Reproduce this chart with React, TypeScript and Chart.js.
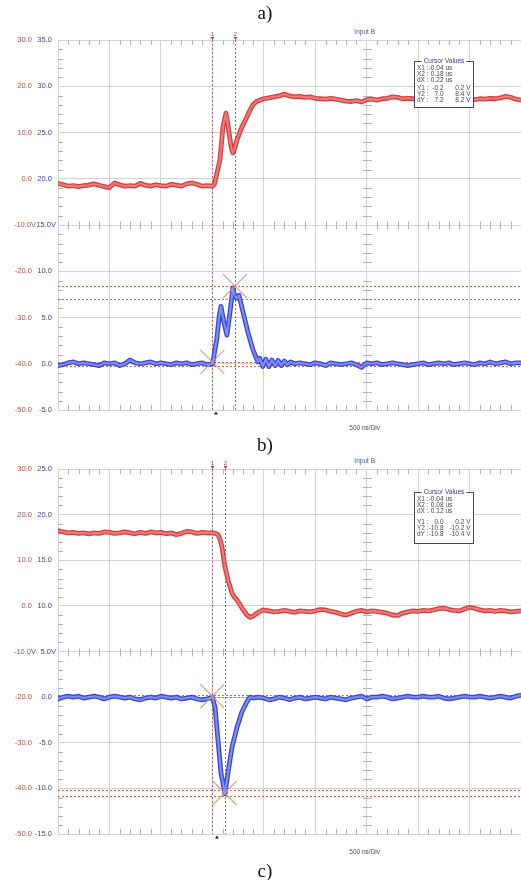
import React, { useEffect, useRef } from 'react';
import { Chart, registerables } from 'chart.js';

Chart.register(...registerables);

// ---------- time grid (µs, 500 ns/div) ----------
const PRE_T = [-1.5, -1.45, -1.4, -1.35, -1.3, -1.25, -1.2, -1.15, -1.1, -1.05, -1, -0.95, -0.9, -0.85, -0.8, -0.75, -0.7, -0.65, -0.6, -0.55, -0.5, -0.45, -0.4, -0.35, -0.3, -0.25, -0.2, -0.15, -0.1, -0.05, 0];
const POST_T = [0.55, 0.6, 0.65, 0.7, 0.75, 0.8, 0.85, 0.9, 0.95, 1, 1.05, 1.1, 1.15, 1.2, 1.25, 1.3, 1.35, 1.4, 1.45, 1.5, 1.55, 1.6, 1.65, 1.7, 1.75, 1.8, 1.85, 1.9, 1.95, 2, 2.05, 2.1, 2.15, 2.2, 2.25, 2.3, 2.35, 2.4, 2.45, 2.5, 2.55, 2.6, 2.65, 2.7, 2.75, 2.8, 2.85, 2.9, 2.95, 3];
const POST_T_LATE = POST_T.slice(6);

// ---------- panel a) : channel A (red) ----------
const A_RED_PRE = [-1.0, -1.3, -1.6, -1.5, -1.7, -1.5, -1.4, -1.1, -1.4, -1.7, -1.9, -0.9, -1.3, -1.6, -1.5, -1.6, -1.0, -1.4, -1.6, -1.3, -1.5, -1.6, -1.2, -1.4, -1.6, -1.1, -0.9, -1.2, -1.6, -1.5, -1.6];
const A_RED_EDGE_T = [0.02, 0.045, 0.074, 0.103, 0.133, 0.152, 0.175, 0.19, 0.2, 0.22, 0.24, 0.265, 0.288, 0.31, 0.337, 0.365, 0.395, 0.43, 0.463, 0.5];
const A_RED_EDGE = [-1.2, 1.2, 4.1, 11.2, 14.2, 11.6, 8.0, 6.2, 5.6, 6.8, 8.4, 9.9, 11.2, 12.2, 13.4, 14.8, 16.0, 16.7, 17.0, 17.3];
const A_RED_POST = [17.5, 17.7, 17.9, 18.3, 17.9, 17.7, 17.8, 17.6, 17.7, 17.4, 17.3, 17.2, 17.4, 17.2, 17.0, 16.8, 16.7, 16.9, 16.6, 17.1, 17.2, 17.0, 17.3, 17.4, 17.7, 17.6, 17.3, 17.4, 17.3, 17.2, 17.4, 17.3, 17.5, 17.3, 17.4, 17.2, 17.3, 17.4, 17.2, 17.3, 17.1, 17.3, 17.2, 17.4, 17.3, 17.5, 17.8, 17.6, 17.2, 17.0];

// ---------- panel a) : channel B (blue) ----------
const A_BLUE_PRE = [-0.2, -0.1, 0.1, 0.2, 0.0, 0.1, 0.0, -0.1, -0.2, 0.1, 0.0, 0.1, -0.2, 0.0, 0.4, 0.1, 0.0, 0.1, 0.2, 0.0, 0.1, 0.0, -0.1, 0.1, 0.0, 0.1, -0.1, 0.0, 0.1, -0.1, 0.0];
const A_BLUE_EDGE_T = [0.006, 0.045, 0.065, 0.084, 0.11, 0.142, 0.172, 0.2, 0.22, 0.24, 0.259, 0.298, 0.346, 0.395, 0.444, 0.46, 0.49, 0.52, 0.55, 0.58, 0.61, 0.64, 0.67, 0.7, 0.73, 0.76, 0.8];
const A_BLUE_EDGE = [0.2, 2.8, 5.0, 6.2, 4.6, 3.1, 5.6, 8.2, 7.3, 7.1, 7.4, 5.6, 3.4, 1.5, 0.2, 0.6, -0.3, 0.5, -0.3, 0.4, -0.2, 0.35, -0.2, 0.3, -0.1, 0.2, 0.0];
const A_BLUE_POST = [0.1, 0.0, -0.1, 0.1, 0.0, -0.2, 0.1, 0.0, -0.1, 0.0, 0.1, -0.1, -0.4, 0.1, 0.0, 0.1, -0.1, 0.0, 0.1, 0.0, -0.1, -0.2, -0.1, 0.0, 0.1, -0.1, 0.0, 0.1, 0.0, 0.1, -0.1, 0.0, 0.1, 0.0, -0.1, 0.1, 0.0, 0.2, 0.0, 0.1, 0.2, 0.0, 0.1, 0.1];

// ---------- panel b) : channel A (red) ----------
const B_RED_PRE = [16.5, 16.2, 16.0, 16.1, 15.9, 16.0, 15.8, 16.0, 15.9, 16.2, 16.1, 15.9, 16.0, 16.2, 16.0, 15.8, 16.1, 15.9, 16.2, 16.0, 16.1, 15.8, 16.0, 15.6, 15.9, 16.3, 16.2, 15.9, 16.1, 16.0, 16.0];
const B_RED_EDGE_T = [0.03, 0.055, 0.075, 0.094, 0.123, 0.152, 0.175, 0.191, 0.215, 0.24, 0.265, 0.288, 0.337, 0.366, 0.4, 0.434, 0.49];
const B_RED_EDGE = [15.9, 15.6, 14.6, 12.9, 8.5, 5.7, 4.0, 2.8, 1.9, 1.3, 0.4, -0.5, -2.0, -2.5, -2.2, -1.6, -0.9];
const B_RED_POST = [-1.1, -1.3, -1.2, -1.0, -1.2, -1.4, -1.1, -1.2, -1.3, -1.1, -0.8, -0.9, -1.2, -1.4, -1.8, -2.0, -1.6, -1.2, -1.0, -1.3, -1.1, -1.2, -1.4, -1.6, -2.0, -2.1, -1.6, -1.3, -1.1, -1.2, -1.0, -1.1, -0.9, -0.6, -0.5, -0.8, -1.0, -1.1, -0.7, -0.3, -0.5, -0.9, -1.1, -1.0, -1.2, -1.0, -1.1, -1.3, -1.2, -1.1];

// ---------- panel b) : channel B (blue) ----------
const B_BLUE_PRE = [-0.2, 0.0, 0.1, 0.0, 0.1, -0.1, 0.0, 0.1, 0.0, -0.2, 0.0, 0.1, 0.0, -0.1, 0.0, -0.2, -0.3, -0.1, 0.0, -0.1, 0.1, 0.0, -0.1, 0.0, -0.2, -0.1, 0.0, -0.2, -0.3, -0.2, 0.0];
const B_BLUE_EDGE_T = [0.026, 0.055, 0.084, 0.123, 0.152, 0.191, 0.24, 0.288, 0.337, 0.366, 0.4, 0.45, 0.5];
const B_BLUE_EDGE = [-1.1, -4.7, -8.3, -10.6, -8.3, -5.5, -3.3, -1.6, -0.5, 0.0, -0.1, 0.0, -0.1];
const B_BLUE_POST = [-0.3, -0.2, 0.0, -0.1, -0.3, -0.1, 0.0, -0.2, -0.1, 0.0, -0.1, -0.2, 0.0, -0.1, -0.2, -0.3, -0.1, 0.0, 0.1, -0.2, 0.0, 0.0, 0.1, 0.0, -0.2, -0.1, 0.0, 0.1, 0.0, 0.0, 0.1, 0.0, 0.0, 0.1, -0.1, -0.2, -0.1, 0.0, 0.1, 0.0, 0.0, 0.1, 0.0, -0.1, 0.0, 0.1, 0.0, -0.1, 0.1, 0.2];

// ---------- axis ticks ----------
const A_RED_TICKS = [30, 20, 10, 0, -10, -20, -30, -40, -50];
const A_RED_LABELS = ['30.0', '20.0', '10.0', '0.0', '-10.0V', '-20.0', '-30.0', '-40.0', '-50.0'];
const A_BLUE_TICKS = [35, 30, 25, 20, 15, 10, 5, 0, -5];
const A_BLUE_LABELS = ['35.0', '30.0', '25.0', '20.0', '15.0V', '10.0', '5.0', '0.0', '-5.0'];
const B_BLUE_TICKS = [25, 20, 15, 10, 5, 0, -5, -10, -15];
const B_BLUE_LABELS = ['25.0', '20.0', '15.0', '10.0', '5.0V', '0.0', '-5.0', '-10.0', '-15.0'];

// ---------- cursors ----------
const A_CURSOR_T = [0.0, 0.22];
const A_CURSOR_Y = [0.2, -0.2, 8.4, 7.0];
const A_CROSSES = [[0.0, 0.2], [0.22, 8.4]];
const A_CURSOR_ROWS = [
  ['X1 :', '-0.04', 'us'], ['X2 :', '0.18', 'us'], ['dX :', '0.22', 'us'],
  ['Y1 :', '-0.2', '0.2 V'], ['Y2 :', '7.0', '8.4 V'], ['dY :', '7.2', '8.2 V'],
];
const B_CURSOR_T = [0.0, 0.12];
const B_CURSOR_Y = [0.2, 0.0, -10.2, -10.8];
const B_CROSSES = [[0.0, 0.1], [0.12, -10.5]];
const B_CURSOR_ROWS = [
  ['X1 :', '-0.04', 'us'], ['X2 :', '0.08', 'us'], ['dX :', '0.12', 'us'],
  ['Y1 :', '0.0', '0.2 V'], ['Y2 :', '-10.8', '-10.2 V'], ['dY :', '-10.8', '-10.4 V'],
];

const X_MIN = -1.5;
const X_MAX = 3.0;
const RED_EDGE = '#d23f3f';
const RED_CORE = '#f07878';
const BLUE_EDGE = '#3a48cc';
const BLUE_CORE = '#7d8cf2';
const GRID = '#d3d3d3';
const MINOR = '#b4b4b4';
const FONT = '"Liberation Sans", Arial, sans-serif';

type PanelDef = {
  redT: number[]; redV: number[]; blueT: number[]; blueV: number[];
  aTicks: number[]; aLabels: string[]; bTicks: number[]; bLabels: string[];
  bMin: number; bMax: number;
  cursorT: number[]; cursorY: number[]; crosses: number[][]; rows: string[][];
  padTop: number; padBottom: number; boxTop: number; boxH: number; rowY: number[];
  trigT: number;
};

const PANEL_A: PanelDef = {
  redT: [...PRE_T, ...A_RED_EDGE_T, ...POST_T],
  redV: [...A_RED_PRE, ...A_RED_EDGE, ...A_RED_POST],
  blueT: [...PRE_T, ...A_BLUE_EDGE_T, ...POST_T_LATE],
  blueV: [...A_BLUE_PRE, ...A_BLUE_EDGE, ...A_BLUE_POST],
  aTicks: A_RED_TICKS, aLabels: A_RED_LABELS, bTicks: A_BLUE_TICKS, bLabels: A_BLUE_LABELS,
  bMin: -5, bMax: 35,
  cursorT: A_CURSOR_T, cursorY: A_CURSOR_Y, crosses: A_CROSSES, rows: A_CURSOR_ROWS,
  padTop: 20, padBottom: 30, boxTop: 21, boxH: 46, rowY: [6.5, 12.5, 18.5, 26.5, 32.5, 38.5],
  trigT: 0.035,
};

const PANEL_B: PanelDef = {
  redT: [...PRE_T, ...B_RED_EDGE_T, ...POST_T],
  redV: [...B_RED_PRE, ...B_RED_EDGE, ...B_RED_POST],
  blueT: [...PRE_T, ...B_BLUE_EDGE_T, ...POST_T],
  blueV: [...B_BLUE_PRE, ...B_BLUE_EDGE, ...B_BLUE_POST],
  aTicks: A_RED_TICKS, aLabels: A_RED_LABELS, bTicks: B_BLUE_TICKS, bLabels: B_BLUE_LABELS,
  bMin: -15, bMax: 25,
  cursorT: B_CURSOR_T, cursorY: B_CURSOR_Y, crosses: B_CROSSES, rows: B_CURSOR_ROWS,
  padTop: 19, padBottom: 36, boxTop: 23, boxH: 51, rowY: [7, 13, 19, 29.5, 35.5, 41.5],
  trigT: 0.045,
};

function pts(t: number[], v: number[]) {
  return t.map((x, i) => ({ x, y: v[i] }));
}

function labelFor(ticks: number[], labels: string[], v: number) {
  const i = ticks.indexOf(Number(v));
  if (i < 0) return '';
  const s = labels[i];
  return s.endsWith('V') ? s : s + '\u2007';
}

function scopePlugin(P: PanelDef) {
  return {
    id: 'scope',
    beforeDatasetsDraw(chart: any) {
      const ctx = chart.ctx;
      const { left, right, top, bottom } = chart.chartArea;
      const xs = chart.scales.x, ya = chart.scales.yA, yb = chart.scales.yB;
      ctx.save();
      ctx.strokeStyle = MINOR;
      ctx.lineWidth = 1;
      ctx.beginPath();
      const cx = Math.round(xs.getPixelForValue(1.5)) + 0.5;
      const my = Math.round(ya.getPixelForValue(-10)) + 0.5;
      for (let k = 1; k < 45; k++) {
        if (k % 5 === 0) continue;
        const px = Math.round(xs.getPixelForValue(X_MIN + k * 0.1)) + 0.5;
        ctx.moveTo(px, top); ctx.lineTo(px, top + 5);
        ctx.moveTo(px, bottom); ctx.lineTo(px, bottom - 5);
        ctx.moveTo(px, my - 4); ctx.lineTo(px, my + 4);
      }
      for (let k = 1; k < 40; k++) {
        if (k % 5 === 0) continue;
        const py = Math.round(ya.getPixelForValue(-50 + k * 2)) + 0.5;
        ctx.moveTo(left, py); ctx.lineTo(left + 5, py);
        ctx.moveTo(cx - 4.5, py); ctx.lineTo(cx + 4.5, py);
      }
      ctx.stroke();
      ctx.setLineDash([2, 2]);
      ctx.strokeStyle = '#b46262';
      ctx.beginPath();
      for (const t of P.cursorT) {
        const px = Math.round(xs.getPixelForValue(t)) + 0.5;
        ctx.moveTo(px, top); ctx.lineTo(px, bottom);
      }
      ctx.stroke();
      ctx.strokeStyle = '#cc6a52';
      ctx.beginPath();
      for (const v of P.cursorY) {
        const py = Math.round(yb.getPixelForValue(v)) + 0.5;
        ctx.moveTo(left, py); ctx.lineTo(right, py);
      }
      ctx.stroke();
      ctx.restore();
    },
    afterDatasetsDraw(chart: any) {
      const ctx = chart.ctx;
      const { left, top, bottom } = chart.chartArea;
      const xs = chart.scales.x, yb = chart.scales.yB;
      ctx.save();
      // crosses
      ctx.strokeStyle = 'rgba(214,150,130,0.85)';
      ctx.lineWidth = 1.3;
      ctx.beginPath();
      for (const [t, v] of P.crosses) {
        const px = xs.getPixelForValue(t), py = yb.getPixelForValue(v);
        ctx.moveTo(px - 12, py - 12); ctx.lineTo(px + 12, py + 12);
        ctx.moveTo(px - 12, py + 12); ctx.lineTo(px + 12, py - 12);
      }
      ctx.stroke();
      // cursor markers at the top
      ctx.fillStyle = '#a84444';
      ctx.font = '6px ' + FONT;
      ctx.textAlign = 'center';
      ctx.textBaseline = 'alphabetic';
      P.cursorT.forEach((t, i) => {
        const px = Math.round(xs.getPixelForValue(t)) + 0.5;
        ctx.fillText(String(i + 1), px, top - 4);
        ctx.beginPath();
        ctx.moveTo(px - 2, top - 3); ctx.lineTo(px + 2, top - 3); ctx.lineTo(px, top);
        ctx.closePath(); ctx.fill();
      });
      // trigger marker
      const tx = xs.getPixelForValue(P.trigT);
      ctx.fillStyle = '#222';
      ctx.beginPath();
      ctx.moveTo(tx - 2, bottom + 4.5); ctx.lineTo(tx + 2, bottom + 4.5); ctx.lineTo(tx, bottom + 1.5);
      ctx.closePath(); ctx.fill();
      // captions inside the scope frame
      const cx = xs.getPixelForValue(1.5);
      ctx.font = '6.5px ' + FONT;
      ctx.textBaseline = 'middle';
      ctx.fillStyle = '#4a56a8';
      ctx.fillText('Input B', cx - 2, top - 7.5);
      ctx.fillStyle = '#505050';
      ctx.fillText('500 ns/Div', cx - 2, bottom + 18.5);
      // cursor values box
      const bx = Math.round(left + 356) + 0.5, by = Math.round(top + P.boxTop) + 0.5;
      const bw = 59, bh = P.boxH;
      ctx.fillStyle = '#ffffff';
      ctx.fillRect(bx, by, bw, bh);
      ctx.strokeStyle = '#4a4a4a';
      ctx.lineWidth = 1;
      ctx.strokeRect(bx, by, bw, bh);
      const title = 'Cursor Values';
      const tw = ctx.measureText(title).width;
      ctx.fillStyle = '#ffffff';
      ctx.fillRect(bx + bw / 2 - tw / 2 - 2, by - 3, tw + 4, 6);
      ctx.fillStyle = '#3c3c9c';
      ctx.textAlign = 'center';
      ctx.fillText(title, bx + bw / 2, by);
      ctx.fillStyle = '#4a4a4a';
      P.rows.forEach((r, i) => {
        const y = by + P.rowY[i];
        ctx.textAlign = 'left';
        ctx.fillText(r[0], bx + 2.5, y);
        ctx.textAlign = 'right';
        ctx.fillText(r[1], bx + 29, y);
        if (r[2] === 'us') {
          ctx.textAlign = 'left';
          ctx.fillText(r[2], bx + 31, y);
        } else {
          ctx.textAlign = 'right';
          ctx.fillText(r[2], bx + 56, y);
        }
      });
      ctx.restore();
    },
  };
}

function noLabelClip(s: any) {
  s._computeLabelArea = () => undefined;
}

function makeConfig(P: PanelDef): any {
  const red = pts(P.redT, P.redV);
  const blue = pts(P.blueT, P.blueV);
  const line = { pointRadius: 0, tension: 0, borderJoinStyle: 'round', borderCapStyle: 'round', fill: false };
  return {
    type: 'line',
    data: {
      datasets: [
        { ...line, data: red, yAxisID: 'yA', borderColor: RED_CORE, borderWidth: 2.2, order: 0 },
        { ...line, data: red, yAxisID: 'yA', borderColor: RED_EDGE, borderWidth: 4.8, order: 1 },
        { ...line, data: blue, yAxisID: 'yB', borderColor: BLUE_CORE, borderWidth: 2.2, order: 2 },
        { ...line, data: blue, yAxisID: 'yB', borderColor: BLUE_EDGE, borderWidth: 4.8, order: 3 },
      ],
    },
    options: {
      animation: false,
      responsive: false,
      events: [],
      layout: { padding: { top: P.padTop, bottom: P.padBottom, left: 0, right: 0 } },
      plugins: { legend: { display: false }, tooltip: { enabled: false } },
      scales: {
        x: {
          type: 'linear', min: X_MIN, max: X_MAX,
          ticks: { display: false, stepSize: 0.5 },
          grid: { color: GRID, drawTicks: false },
          border: { display: false },
          afterFit: (s: any) => { s.height = 0; s.paddingLeft = 0; s.paddingRight = 0; },
        },
        yA: {
          type: 'linear', position: 'left', weight: 1, min: -50, max: 30,
          ticks: {
            stepSize: 10, padding: 1, color: '#a85454', autoSkip: false,
            font: { family: FONT, size: 7.5 },
            callback: (v: any) => labelFor(P.aTicks, P.aLabels, v),
          },
          grid: { color: GRID, drawTicks: false },
          border: { display: false },
          afterFit: (s: any) => { s.width = 37; noLabelClip(s); },
        },
        yB: {
          type: 'linear', position: 'left', weight: 0, min: P.bMin, max: P.bMax,
          ticks: {
            stepSize: 5, padding: 2, color: '#464690', autoSkip: false,
            font: { family: FONT, size: 7.5 },
            callback: (v: any) => labelFor(P.bTicks, P.bLabels, v),
          },
          grid: { display: false, drawTicks: false },
          border: { display: false },
          afterFit: (s: any) => { s.width = 21; noLabelClip(s); },
        },
      },
    },
    plugins: [scopePlugin(P)],
  };
}

function ScopePanel({ panel, top }: { panel: PanelDef; top: number }) {
  const ref = useRef<HTMLCanvasElement | null>(null);
  useEffect(() => {
    if (!ref.current) return;
    const chart = new Chart(ref.current, makeConfig(panel));
    return () => chart.destroy();
  }, [panel]);
  return (
    <canvas
      ref={ref}
      width={521}
      height={420}
      style={{ position: 'absolute', left: 0, top, width: 521, height: 420 }}
    />
  );
}

const captionStyle: React.CSSProperties = {
  position: 'absolute', left: 0, width: 530, textAlign: 'center',
  fontFamily: '"Liberation Serif", "Times New Roman", serif', fontSize: 19, lineHeight: '20px',
  color: '#111', zIndex: 2,
};

export default function App() {
  return (
    <div style={{ position: 'absolute', left: 0, top: 0, width: 521, height: 880, background: '#fff', overflow: 'hidden' }}>
      <ScopePanel panel={PANEL_A} top={20} />
      <ScopePanel panel={PANEL_B} top={450} />
      <div style={{ ...captionStyle, top: 3 }}>a)</div>
      <div style={{ ...captionStyle, top: 435 }}>b)</div>
      <div style={{ ...captionStyle, top: 861 }}>c)</div>
    </div>
  );
}
